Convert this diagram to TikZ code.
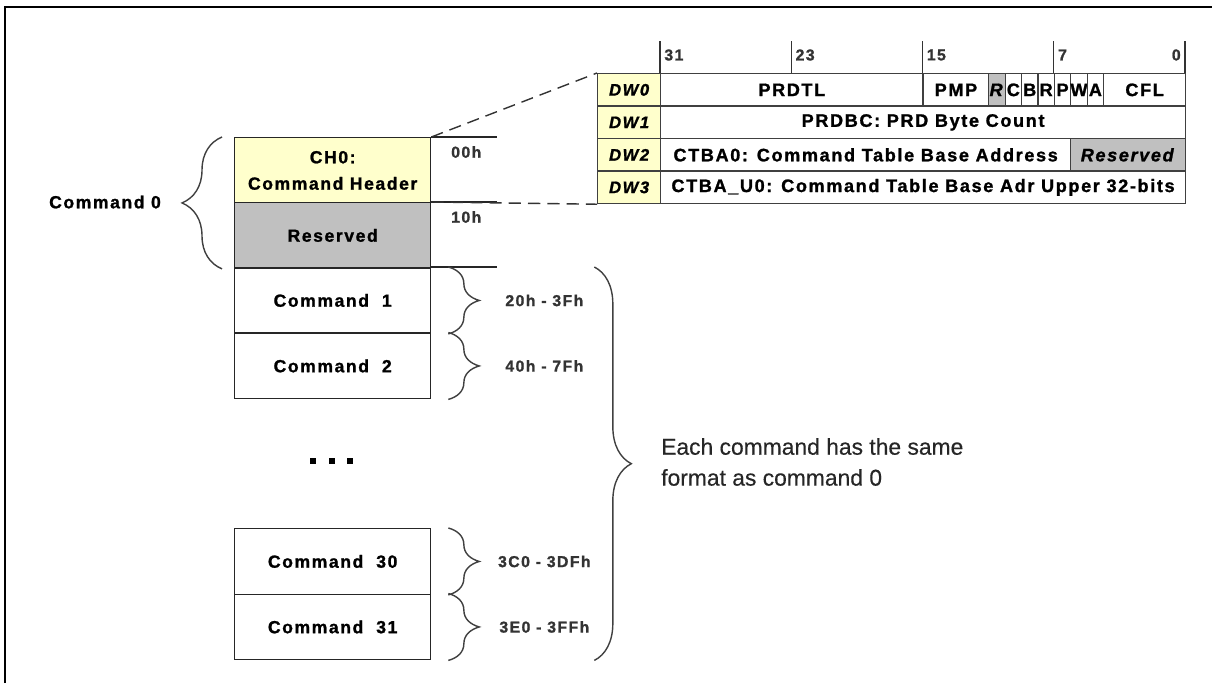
\documentclass[tikz,border=0pt]{standalone}
\usepackage{fontspec}
\setmainfont{Liberation Sans}[LetterSpace=9, BoldFeatures={FakeBold=1.2}, BoldItalicFeatures={FakeBold=1.2}]
\newfontfamily\plainfont{Liberation Sans}[FakeBold=0.4]
\usetikzlibrary{positioning,decorations.pathreplacing}

\definecolor{hdryellow}{RGB}{255,255,204}
\definecolor{rsvgray}{RGB}{192,192,192}

\newcommand{\onebit}[1]{\makebox[0pt]{#1}}

\tikzset{
  txt/.style={font=\bfseries\fontsize{10}{15}\selectfont},
  membox/.style={draw=black!85, line width=0.8pt, minimum width=3.92cm, minimum height=1.31cm,
    inner sep=0pt, anchor=north west, align=center, txt},
  cell/.style={draw=black!75, line width=0.7pt, minimum height=0.65cm, inner sep=0pt,
    anchor=north west, font=\bfseries\fontsize{10.3}{11}\selectfont},
  dwcell/.style={fill=hdryellow, minimum width=1.26cm, font=\bfseries\itshape\fontsize{9.5}{11}\selectfont},
  bitlbl/.style={font=\bfseries\fontsize{9}{10}\selectfont, text=black!80, inner sep=0pt},
  addr/.style={font=\bfseries\fontsize{9}{11}\selectfont, text=black!80},
  curly/.style={decorate, decoration={brace, amplitude=#1}, draw=black!75, line width=0.8pt},
  zoomline/.style={draw=black!80, line width=0.8pt, dash pattern=on 7pt off 4pt},
  dotsq/.style={fill=black, minimum size=0.11cm, inner sep=0pt},
}

\begin{document}
\begin{tikzpicture}[x=0.02cm,y=-0.02cm]
\useasboundingbox (0,0) rectangle (1212,683);
\draw[line width=1.5pt] (5,683) -- (5,7) -- (1212,7);

% bit ruler
\foreach \b in {31,23,15,7}{
  \draw[black!80, line width=0.7pt] ({660+(31-\b)*16.40625},41) -- ({660+(31-\b)*16.40625},73);
  \node[bitlbl, anchor=west] (bit\b) at ({664+(31-\b)*16.40625},55) {\b};}
\draw[black!80, line width=0.7pt] (1185,41) -- (1185,73);
\node[bitlbl, anchor=east] (bit0) at (1181,55) {0};

% command header dwords
\foreach \r in {0,1,2,3}{
  \node[cell, dwcell] (dw\r) at (597,{73+\r*32.5}) {DW\r};}

\foreach \nm/\hi/\n/\lbl in {prdtl/31/16/PRDTL, pmp/15/4/PMP, fc/10/1/\onebit{C}, fb/9/1/\onebit{B},
    fr/8/1/\onebit{R}, fp/7/1/\onebit{P}, fw/6/1/\onebit{W}, fa/5/1/\onebit{A}, cfl/4/5/CFL}{
  \pgfmathsetmacro\w{\n*0.328125}
  \node[cell, minimum width=\w cm] (\nm) at ({660+(31-\hi)*16.40625},73) {\lbl};}
\node[cell, fill=rsvgray, minimum width=0.328125cm] (frsv) at ({660+20*16.40625},73) {\onebit{\textit{R}}};

\node[cell, minimum width=10.5cm] (prdbc) at (660,105.5) {PRDBC: PRD Byte Count};
\node[cell, minimum width=8.203125cm] (ctba) at (660,138) {CTBA0: Command Table Base Address};
\node[cell, fill=rsvgray, minimum width=2.296875cm] (ctbarsv) at ({660+25*16.40625},138) {\textit{Reserved}};
\node[cell, minimum width=10.5cm] (ctbau) at (660,170.5) {CTBA\_U0: Command Table Base Adr Upper 32-bits};

% command list
\node[membox, fill=hdryellow] (ch0) at (234,137) {CH0:\\Command Header};
\node[membox, fill=rsvgray] (rsv) at (234,202) {Reserved};
\node[membox] (cmd1) at (234,267) {Command\ \ 1};
\node[membox] (cmd2) at (234,332.5) {Command\ \ 2};
\node[membox] (cmd30) at (234,528) {Command\ \ 30};
\node[membox] (cmd31) at (234,593.5) {Command\ \ 31};

\coordinate (ext) at (497,0);
\foreach \c in {ch0,rsv,cmd1}{
  \draw[black!85, line width=0.8pt] (\c.north east) -- (\c.north east -| ext);}
\draw[zoomline] (ch0.north east) -- (dw0.north west);
\draw[zoomline] (rsv.north east) -- (dw3.south west);

\node[addr, anchor=west] (a00) at (445,152) {00h};
\node[addr, anchor=west] (a10) at (445,217) {10h};

\draw[curly=0.8cm] ([xshift=-0.24cm]rsv.south west) -- ([xshift=-0.24cm]ch0.north west);
\node[txt] (c0) at (105,202) {Command 0};

\foreach \c/\lbl in {cmd1/20h - 3Fh, cmd2/40h - 7Fh, cmd30/3C0 - 3DFh, cmd31/3E0 - 3FFh}{
  \draw[curly=0.62cm] ([xshift=0.34cm]\c.north east) -- ([xshift=0.34cm]\c.south east);
  \node[addr] (r\c) at ([xshift=2.26cm]\c.east) {\lbl};}

\foreach \i/\x in {1/313,2/332,3/350}{
  \node[dotsq] (dot\i) at (\x,461) {};}

\draw[curly=0.74cm] ([xshift=3.26cm]cmd1.north east) -- ([xshift=3.26cm]cmd31.south east);
\node[anchor=west, align=left, font=\plainfont\fontsize{13}{17.6}\selectfont, text=black!85] (same) at (655,462)
  {Each command has the same\\format as command 0};
\end{tikzpicture}
\end{document}
